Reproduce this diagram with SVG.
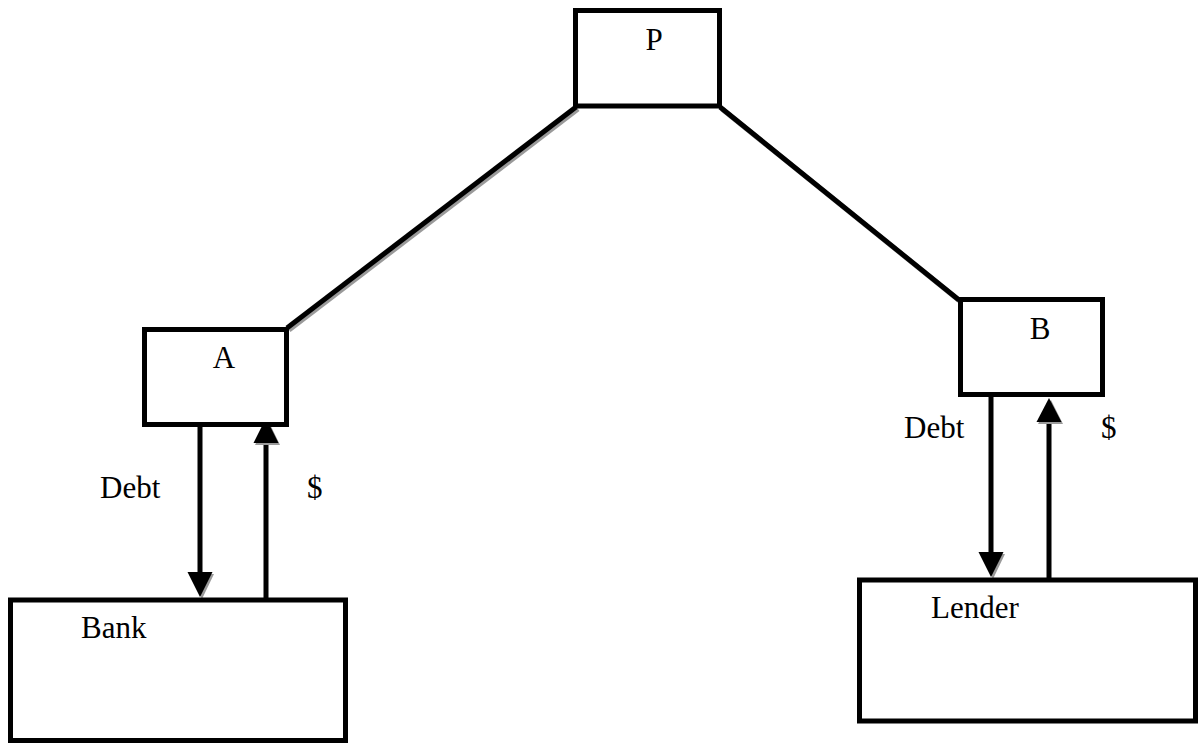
<svg xmlns="http://www.w3.org/2000/svg" width="1202" height="743" viewBox="0 0 1202 743">
<defs>
<style>
.box{fill:#fff;stroke:#000;stroke-width:5}
.ln{stroke:#000;stroke-width:5;fill:none}
.sh{stroke:#9a9a9a;stroke-width:5;fill:none}
.hd{fill:#000}
.hs{fill:#9a9a9a}
.t{font-family:"Liberation Serif","Times New Roman",serif;font-size:31px;fill:#000}
</style>
</defs>
<rect width="1202" height="743" fill="#fff"/>
<g id="connectors">
<line class="sh" x1="289" y1="330" x2="578" y2="109"/>
<line class="sh" x1="722" y1="109" x2="961" y2="302"/>
<line class="ln" x1="287" y1="328" x2="576" y2="107"/>
<line class="ln" x1="720" y1="107" x2="959" y2="300"/>
<line class="ln" x1="200" y1="427" x2="200" y2="575"/>
<polygon class="hs" points="189,574 214,574 202,599"/>
<polygon class="hd" points="187.5,572 212.5,572 200,597"/>
<line class="ln" x1="266" y1="599" x2="266" y2="440"/>
<polygon class="hs" points="255,445 280,445 268,420"/>
<polygon class="hd" points="253.5,443 278.5,443 266,418"/>
<line class="ln" x1="991" y1="397" x2="991" y2="555"/>
<polygon class="hs" points="980,554 1005,554 993,579"/>
<polygon class="hd" points="978.5,552 1003.5,552 991,577"/>
<line class="ln" x1="1049" y1="579" x2="1049" y2="420"/>
<polygon class="hs" points="1038,424 1063,424 1051,400"/>
<polygon class="hd" points="1036.5,422 1061.5,422 1049,398"/>
</g>
<g id="node-P">
<rect class="box" x="575.5" y="10.5" width="144" height="95.5"/>
<text class="t" x="654" y="50" text-anchor="middle">P</text>
</g>
<g id="node-A">
<rect class="box" x="144.5" y="329.5" width="142" height="95"/>
<text class="t" x="224" y="368" text-anchor="middle">A</text>
</g>
<g id="node-B">
<rect class="box" x="960.5" y="299.5" width="142" height="95"/>
<text class="t" x="1040" y="339" text-anchor="middle">B</text>
</g>
<g id="node-Bank">
<rect class="box" x="10.5" y="600" width="335" height="140.5"/>
<text class="t" x="81" y="638">Bank</text>
</g>
<g id="node-Lender">
<rect class="box" x="859.5" y="580" width="336" height="141"/>
<text class="t" x="931" y="618">Lender</text>
</g>
<g id="labels">
<text class="t" x="100" y="498">Debt</text>
<text class="t" x="307" y="498">$</text>
<text class="t" x="904" y="438">Debt</text>
<text class="t" x="1101" y="438">$</text>
</g>
</svg>
